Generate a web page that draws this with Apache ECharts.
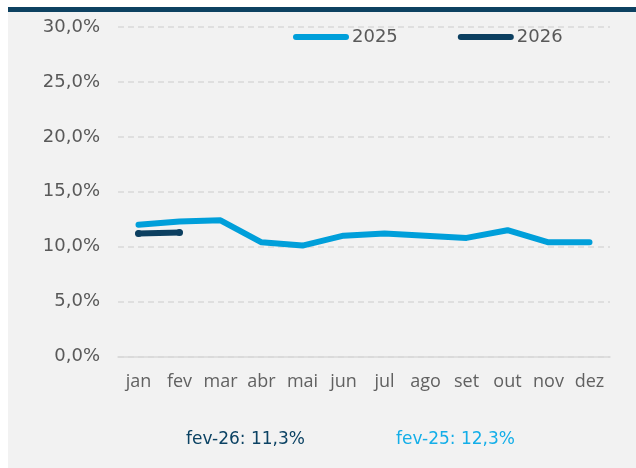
<!DOCTYPE html>
<html>
<head>
<meta charset="utf-8">
<script src="https://cdn.jsdelivr.net/npm/echarts@6/dist/echarts.min.js"></script>
<style>html,body{margin:0;padding:0;background:#fff;}#c{width:636px;height:468px;}</style>
</head>
<body>
<div id="c"></div>
<script>
const months = ['jan','fev','mar','abr','mai','jun','jul','ago','set','out','nov','dez'];
const v2025 = [12.0, 12.3, 12.4, 10.4, 10.1, 11.0, 11.2, 11.0, 10.8, 11.5, 10.4, 10.4];
const v2026 = [11.2, 11.3];
const seriesNames = ['2025', '2026'];
const yTicks = [0, 5, 10, 15, 20, 25, 30];
const noteLabels = ['fev-26', 'fev-25'];

const fmt = v => v.toFixed(1).replace('.', ',') + '%';
const C25 = '#009fda', C26 = '#0c3f60';
const pill = 'path://M3,0 L53,0 A3,3 0 0 1 53,6 L3,6 A3,3 0 0 1 3,0 Z';

const chart = echarts.init(document.getElementById('c'), null, {renderer: 'canvas'});
chart.setOption({
  backgroundColor: '#ffffff',
  animation: false,
  graphic: [
    {type: 'rect', shape: {x: 8, y: 12, width: 628, height: 456}, style: {fill: '#f2f2f2'}, z: -10},
    {type: 'rect', shape: {x: 8, y: 7, width: 628, height: 5}, style: {fill: '#0d4161'}, z: -10},
    {type: 'text', left: 186, top: 431, style: {text: noteLabels[0] + ': ' + fmt(v2026[1]), fill: '#0b4263', font: '17px "DejaVu Sans"'}},
    {type: 'text', left: 396, top: 431, style: {text: noteLabels[1] + ': ' + fmt(v2025[1]), fill: '#13aee8', font: '17px "DejaVu Sans"'}}
  ],
  legend: {
    left: 293, top: 28, padding: 0,
    itemWidth: 56, itemHeight: 6, itemGap: 60,
    textStyle: {fontFamily: 'DejaVu Sans', fontSize: 18, color: '#595959', padding: [2, 0, 0, -2]},
    data: [{name: seriesNames[0], icon: pill}, {name: seriesNames[1], icon: pill}]
  },
  grid: {left: 118, right: 26, top: 27, bottom: 111.5, containLabel: false},
  xAxis: {
    type: 'category', data: months, boundaryGap: true,
    axisLine: {show: true, lineStyle: {color: '#d9d9d9', width: 1.5}},
    axisTick: {show: false},
    axisLabel: {interval: 0, color: '#616161', fontFamily: 'Open Sans', fontSize: 18, margin: 16}
  },
  yAxis: {
    type: 'value', min: yTicks[0], max: yTicks[yTicks.length - 1], interval: 5,
    axisLine: {show: false}, axisTick: {show: false},
    axisLabel: {color: '#595959', fontFamily: 'DejaVu Sans', fontSize: 18, margin: 18, formatter: v => fmt(v)},
    splitLine: {lineStyle: {color: '#d9d9d9', type: [6, 4], width: 1.5}}
  },
  series: [
    {name: seriesNames[0], type: 'line', data: v2025, symbol: 'none', color: C25,
     lineStyle: {width: 6, color: C25, cap: 'round', join: 'round'}, z: 2},
    {name: seriesNames[1], type: 'line', data: v2026, symbol: 'circle', symbolSize: 7, showSymbol: true, color: C26,
     itemStyle: {color: C26}, lineStyle: {width: 6, color: C26, cap: 'round', join: 'round'}, z: 3}
  ]
});
</script>
</body>
</html>
